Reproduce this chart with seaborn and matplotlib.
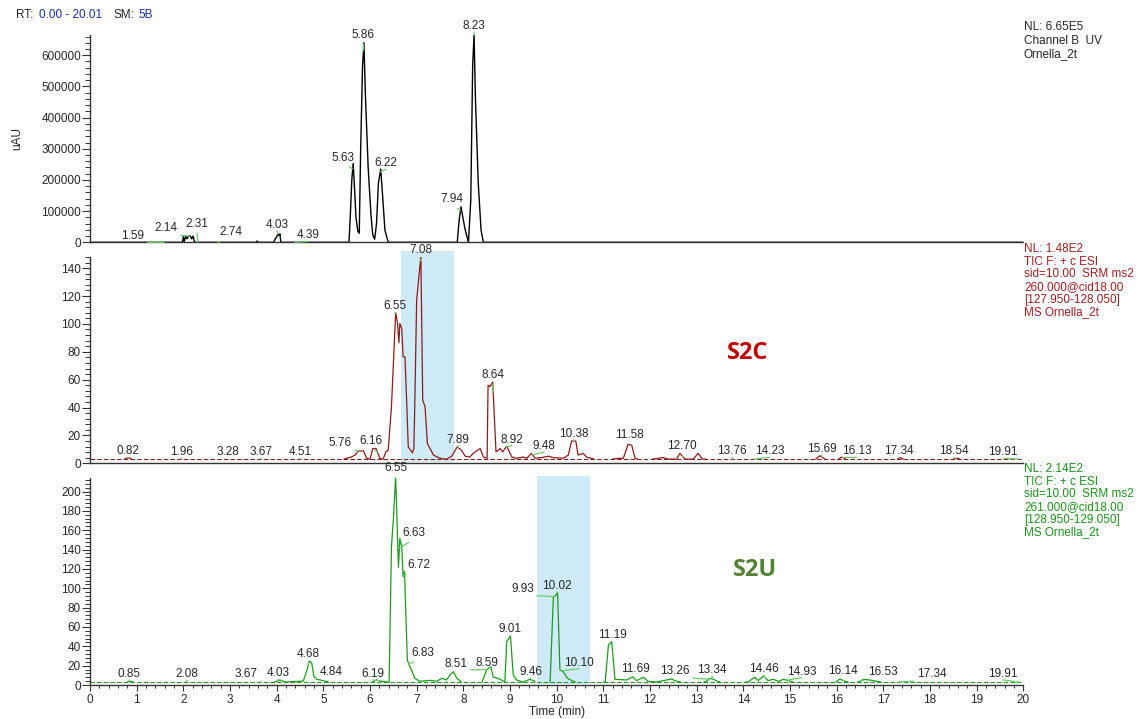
import numpy as np
import pandas as pd
import seaborn as sns
import matplotlib.pyplot as plt
from matplotlib.ticker import MultipleLocator, AutoMinorLocator, FuncFormatter

nan = float("nan")

# ---- Channel B UV (time in min, signal in uAU) ----
uv_time = [0.00, 1.98, 2.00, 2.02, 2.05, 2.08, 2.11, 2.15, 2.18, 2.21, 2.24,
           3.56, 3.58, 3.60, 3.93, 4.03, 4.05, 4.07, 4.09,
           5.55, 5.58, 5.61, 5.64, 5.67, 5.70, 5.74, 5.77, 5.80, 5.84, 5.87,
           5.90, 5.96, 6.02, 6.06, 6.10, 6.14, 6.18, 6.23, 6.27, 6.32, 6.39,
           7.87, 7.91, 7.95, 7.99, 8.04, 8.11, 8.16, 8.20, 8.23, 8.26, 8.32,
           8.38, 8.43, 20.00]
uv_signal = [0, 0, 18000, 3000, 20000, 11000, 20000, 20000, 11000, 20000, 0,
             0, 4000, 0, 0, 26000, 22000, 27000, 0,
             0, 90000, 200000, 253000, 170000, 80000, 35000, 29000, 297000, 565000, 640000,
             480000, 243000, 90000, 23000, 10000, 60000, 190000, 235000, 150000, 39000, 0,
             0, 70000, 114000, 80000, 40000, 0, 136000, 565000, 667000, 458000, 190000,
             39000, 0, 0]
uv_peak_labels = ["1.59", "2.14", "2.31", "2.74", "4.03", "4.39", "5.63", "5.86",
                  "6.22", "7.94", "8.23"]
uv_label_time = [0.92, 1.63, 2.29, 3.02, 4.01, 4.67, 5.43, 5.86, 6.34, 7.75, 8.23]
uv_label_level = [19000, 45000, 58000, 32000, 55000, 22000, 272000, 664000,
                  253000, 138000, 694000]

# ---- S2C, TIC 260 > 128 (nan separates drawn pieces) ----
s2c_time = [0.74, 0.79, 0.84, 0.89, nan,
            5.44, 5.50, 5.60, 5.68, 5.75, 5.86, 5.93, 6.00, 6.06, 6.13, 6.21, 6.28, 6.34, 6.39,
            6.46, 6.55, 6.59, 6.62, 6.64, 6.68, 6.71, 6.75, 6.79, 6.82, 6.86, 6.91, 6.94,
            6.96, 7.00, 7.09, 7.13, 7.18, 7.23, 7.36, 7.50, 7.64, 7.75, 7.87, 7.96, 8.04,
            8.14, 8.21, 8.36, 8.43, 8.51, 8.53, 8.57, 8.63, 8.70, 8.79, 8.84, 8.93, 9.04, 9.14,
            9.28, 9.36, 9.46, 9.54, 9.68, 9.82, 9.93, 10.14, 10.25, 10.32, 10.41, 10.46,
            10.57, 10.64, 10.80, nan,
            11.19, 11.32, 11.43, 11.53, 11.61, 11.68, 11.74, nan,
            12.05, 12.28, 12.39, 12.57, 12.64, 12.75, 12.93, 13.03, 13.13, 13.20, nan,
            15.55, 15.64, 15.75, nan,
            16.04, 16.11, 16.19, nan,
            17.30, 17.36, 17.43, nan,
            18.50, 18.57, 18.64]
s2c_signal = [3.0, 3.9, 3.9, 3.0, nan,
              3.0, 3.6, 4.5, 5.9, 8.9, 8.9, 3.6, 2.9, 10.6, 10.6, 3.6, 2.9, 8.2, 9.3,
              40.5, 108, 100.3, 86.4, 100.3, 96.8, 76.4, 76.4, 40.5, 11.8, 9.8, 7.5, 10.6,
              42.9, 117, 148.6, 45.4, 40.5, 14.2, 5.9, 3.6, 2.9, 5.1, 11.8, 9.3, 5.1,
              4.5, 7.1, 10.6, 4.5, 3.6, 56, 55, 58.3, 8.2, 10.6, 8.2, 12.2, 4.5, 3.6,
              4.5, 3.6, 7.1, 3.6, 4.1, 5.1, 4.1, 3.6, 5.9, 16, 16, 5.9,
              7.1, 4.5, 3.0, nan,
              3.0, 3.6, 3.6, 13.6, 12.9, 3.6, 3.0, nan,
              3.0, 4.1, 3.0, 3.0, 7.1, 3.0, 3.0, 7.1, 3.0, 3.0, nan,
              3.0, 5.4, 3.0, nan,
              3.0, 4.5, 3.0, nan,
              3.0, 4.1, 3.0, nan,
              3.0, 3.6, 3.0]
s2c_baseline = 3.0
s2c_band = (6.66, 7.80, 152)
s2c_peak_labels = ["0.82", "1.96", "3.28", "3.67", "4.51", "5.76", "6.16", "6.55",
                   "7.08", "7.89", "8.64", "8.92", "9.48", "10.38", "11.58", "12.70",
                   "13.76", "14.23", "15.69", "16.13", "17.34", "18.54", "19.91"]
s2c_label_time = [0.81, 1.96, 2.96, 3.66, 4.50, 5.36, 6.02, 6.54, 7.09, 7.88, 8.63,
                  9.04, 9.73, 10.37, 11.57, 12.69, 13.76, 14.56, 15.68, 16.43, 17.34,
                  18.51, 19.57]
s2c_label_level = [8.6, 7.9, 7.9, 7.9, 7.9, 14.6, 16.2, 112.5, 153, 17, 63.6, 17,
                   12.2, 21.3, 20, 12.2, 8.6, 8.6, 10.5, 8.6, 8.6, 8.6, 7.9]

# ---- S2U, TIC 261 > 129 ----
s2u_time = [0.80, 0.86, 0.92, nan,
            3.95, 4.07, 4.18, 4.57, 4.64, 4.70, 4.75, 4.80, 4.86, 4.93, 5.11, nan,
            6.05, 6.14, 6.25, 6.36, 6.41, 6.46, 6.50, 6.55, 6.59, 6.61, 6.64, 6.68, 6.71,
            6.74, 6.80, 6.84, 6.89, 6.96, 7.07, 7.29, 7.43, 7.54, 7.64, 7.71, 7.79, 7.86,
            7.96, nan,
            8.40, 8.50, 8.59, 8.64, 8.75, 8.89, 8.93, 9.01, 9.07, 9.14, 9.28, 9.43, 9.54, nan,
            9.86, 9.93, 9.97, 10.02, 10.07, 10.14, 10.23, 10.36, 10.40, nan,
            11.00, 11.04, 11.11, 11.18, 11.25, 11.50, 11.63, 11.71, 11.86, 11.96, 12.14,
            12.46, 12.57, 12.65, nan,
            13.15, 13.21, 13.28, 13.36, 13.44, 13.50, nan,
            14.05, 14.11, 14.18, 14.25, 14.32, 14.43, 14.53, 14.64, 14.75, 14.86, 14.96, 15.07, nan,
            15.98, 16.07, 16.18, 16.25, nan,
            16.45, 16.50, 16.57, 16.71, 16.86, 16.95]
s2u_signal = [3.1, 4.0, 3.1, nan,
              3.1, 5.2, 3.1, 4.1, 13.8, 24.8, 23.0, 8.6, 5.9, 5.2, 3.1, nan,
              3.1, 5.2, 3.8, 3.1, 3.1, 143, 170.7, 215.5, 153.4, 121.7, 151.7, 143, 112,
              117.2, 25.9, 20.7, 15.5, 6.9, 3.8, 4.8, 3.8, 6.9, 5.2, 10.3, 13.8, 6.9,
              3.1, nan,
              3.1, 15.5, 19.0, 8.0, 6.9, 3.1, 44.8, 50.7, 10.3, 5.2, 3.1, 5.9, 3.8, nan,
              3.1, 91.4, 92.0, 95.5, 15.5, 13.8, 6.9, 3.8, 3.1, nan,
              3.1, 3.1, 41.4, 44.8, 5.9, 5.2, 8.6, 4.5, 8.0, 3.8, 3.1,
              6.2, 3.8, 3.1, nan,
              3.1, 3.8, 6.9, 5.9, 3.8, 3.1, nan,
              3.1, 3.1, 5.9, 8.0, 4.5, 9.3, 4.5, 5.9, 3.8, 5.9, 4.5, 3.1, nan,
              3.1, 6.2, 3.8, 3.1, nan,
              3.1, 3.8, 5.9, 5.2, 3.8, 3.1]
s2u_baseline = 3.1
s2u_band = (9.58, 10.71, 216)
s2u_peak_labels = ["0.85", "2.08", "3.67", "4.03", "4.68", "4.84", "6.19", "6.55",
                   "6.63", "6.72", "6.83", "8.51", "8.59", "9.01", "9.46", "9.93",
                   "10.02", "10.10", "11.19", "11.69", "13.26", "13.34", "14.46",
                   "14.93", "16.14", "16.53", "17.34", "19.91"]
s2u_label_time = [0.84, 2.07, 3.34, 4.03, 4.68, 5.16, 6.06, 6.55, 6.95, 7.05, 7.14,
                  7.84, 8.51, 9.00, 9.44, 9.27, 10.01, 10.48, 11.19, 11.68, 12.54,
                  13.33, 14.44, 15.25, 16.14, 16.98, 18.03, 19.57]
s2u_label_level = [11.4, 11.4, 11.4, 12, 32, 13.4, 11.4, 224, 157, 124, 33.4, 21.7,
                   23, 57.6, 13.4, 99.3, 102.7, 23, 51.7, 16.2, 14.5, 15.5, 16.6,
                   13.8, 14.5, 13, 11.4, 11.4]

uv_info = ["NL: 6.65E5", "Channel B  UV", "Ornella_2t"]
s2c_info = ["NL: 1.48E2", "TIC F: + c ESI", "sid=10.00  SRM ms2",
            "260.000@cid18.00", "[127.950-128.050]", "MS Ornella_2t"]
s2u_info = ["NL: 2.14E2", "TIC F: + c ESI", "sid=10.00  SRM ms2",
            "261.000@cid18.00", "[128.950-129.050]", "MS Ornella_2t"]

# colours
TEXT = "#262626"
GREEN_LINE = "#6CCB6C"
BAND = "#CFEBF8"
RED_TRACE, RED_TEXT = "#8E1B1B", "#9B2020"
GREEN_TRACE, GREEN_TEXT = "#1E9A1E", "#1F8F1F"

sns.set_theme(style="ticks")
plt.rcParams["font.family"] = ["Liberation Sans", "DejaVu Sans"]

W, H = 1140, 719
FS = 8.5


def fx(px):
    return px / W


def fy(py):
    return 1 - py / H


def trace_frame(time, signal):
    df = pd.DataFrame({"time": time, "signal": signal})
    df["segment"] = df["time"].isna().cumsum()
    return df.dropna()


def style_axis(ax, ymax, major, show_x):
    ax.set_xlim(0, 20)
    ax.set_ylim(0, ymax)
    for side in ["top", "right"]:
        ax.spines[side].set_visible(False)
    for side in ["left", "bottom"]:
        ax.spines[side].set_color("#333333")
        ax.spines[side].set_linewidth(1.0)
    ax.yaxis.set_major_locator(MultipleLocator(major))
    ax.yaxis.set_minor_locator(AutoMinorLocator(5))
    ax.yaxis.set_major_formatter(FuncFormatter(lambda v, p: f"{v:.0f}"))
    ax.tick_params(axis="y", which="major", length=6, width=0.8, pad=0.5,
                   labelsize=FS, colors="#333333", labelcolor=TEXT)
    ax.tick_params(axis="y", which="minor", length=3.5, width=0.7, colors="#333333")
    if show_x:
        ax.xaxis.set_major_locator(MultipleLocator(1))
        ax.xaxis.set_minor_locator(AutoMinorLocator(5))
        ax.tick_params(axis="x", which="major", length=4, width=0.8, pad=2.5,
                       labelsize=FS, colors="#333333", labelcolor=TEXT)
        ax.tick_params(axis="x", which="minor", length=2.5, width=0.7, colors="#333333")
    else:
        ax.tick_params(axis="x", which="both", length=0, labelbottom=False)
    ax.set_xlabel("")
    ax.set_ylabel("")
    ax.set_facecolor("none")


def label_peaks(ax, df, labels, label_time, label_level, ymax):
    for lab, lt, lv in zip(labels, label_time, label_level):
        rt = float(lab)
        peak = min(np.interp(rt, df["time"], df["signal"]), ymax)
        ax.annotate(lab, xy=(rt, peak), xytext=(lt, lv), ha="center", va="center",
                    fontsize=FS, color=TEXT, annotation_clip=False,
                    arrowprops=dict(arrowstyle="-", color=GREEN_LINE, lw=0.9,
                                    shrinkA=0, shrinkB=0, relpos=(0.5, 0.0)))


def info_block(lines, top, step, color):
    for i, s in enumerate(lines):
        fig.text(fx(1024), fy(top + i * step), s, ha="left", va="center",
                 fontsize=FS, color=color)


fig = plt.figure(figsize=(W / 100, H / 100), dpi=100)
width = (1023.3 - 90) / W
ax_uv = fig.add_axes([fx(90), fy(242.3), width, (242.3 - 35) / H])
ax_c = fig.add_axes([fx(90), fy(463.3), width, (463.3 - 257) / H])
ax_u = fig.add_axes([fx(90), fy(685), width, (685 - 478) / H])

# UV panel
uv_df = pd.DataFrame({"time": uv_time, "signal": uv_signal})
sns.lineplot(data=uv_df, x="time", y="signal", estimator=None, sort=False,
             color="black", linewidth=1.0, ax=ax_uv)
style_axis(ax_uv, 665000, 100000, False)
label_peaks(ax_uv, uv_df, uv_peak_labels, uv_label_time, uv_label_level, 665000)

# S2C panel
c_df = trace_frame(s2c_time, s2c_signal)
ax_c.axvspan(s2c_band[0], s2c_band[1], ymin=0.005, ymax=s2c_band[2] / 148,
             color=BAND, lw=0, zorder=0, clip_on=False)
ax_c.axhline(s2c_baseline, color=RED_TRACE, lw=0.8, ls=(0, (4, 2)), zorder=1)
sns.lineplot(data=c_df, x="time", y="signal", units="segment", estimator=None,
             color=RED_TRACE, linewidth=0.9, ax=ax_c, zorder=2)
style_axis(ax_c, 148, 20, False)
label_peaks(ax_c, c_df, s2c_peak_labels, s2c_label_time, s2c_label_level, 148)
ax_c.text(14.1, 79, "S2C", ha="center", va="center", fontsize=17,
          fontweight="bold", family=["Open Sans", "DejaVu Sans"], color="#C00000")

# S2U panel
u_df = trace_frame(s2u_time, s2u_signal)
ax_u.axvspan(s2u_band[0], s2u_band[1], ymin=0.005, ymax=s2u_band[2] / 214,
             color=BAND, lw=0, zorder=0, clip_on=False)
ax_u.axhline(s2u_baseline, color=GREEN_TRACE, lw=0.8, ls=(0, (4, 2)), zorder=1)
sns.lineplot(data=u_df, x="time", y="signal", units="segment", estimator=None,
             color=GREEN_TRACE, linewidth=0.9, ax=ax_u, zorder=2)
style_axis(ax_u, 214, 20, True)
label_peaks(ax_u, u_df, s2u_peak_labels, s2u_label_time, s2u_label_level, 214)
ax_u.set_xlabel("Time (min)", fontsize=FS, color=TEXT, labelpad=0)
ax_u.text(14.25, 119, "S2U", ha="center", va="center", fontsize=17,
          fontweight="bold", family=["Open Sans", "DejaVu Sans"], color="#548235")

# header and side texts
fig.text(fx(16), fy(15), "RT:", ha="left", va="center", fontsize=FS, color=TEXT)
fig.text(fx(39), fy(15), "0.00 - 20.01", ha="left", va="center", fontsize=FS, color="#1A2F9E")
fig.text(fx(113), fy(15), "SM:", ha="left", va="center", fontsize=FS, color=TEXT)
fig.text(fx(138), fy(15), "5B", ha="left", va="center", fontsize=FS, color="#1A2F9E")
fig.text(fx(17), fy(138), "uAU", rotation=90, ha="center", va="center",
         fontsize=FS, color=TEXT)

info_block(uv_info, 27, 13.5, TEXT)
info_block(s2c_info, 249, 12.7, RED_TEXT)
info_block(s2u_info, 469, 12.7, GREEN_TEXT)

fig.savefig("out.png", dpi=100, facecolor="white")
